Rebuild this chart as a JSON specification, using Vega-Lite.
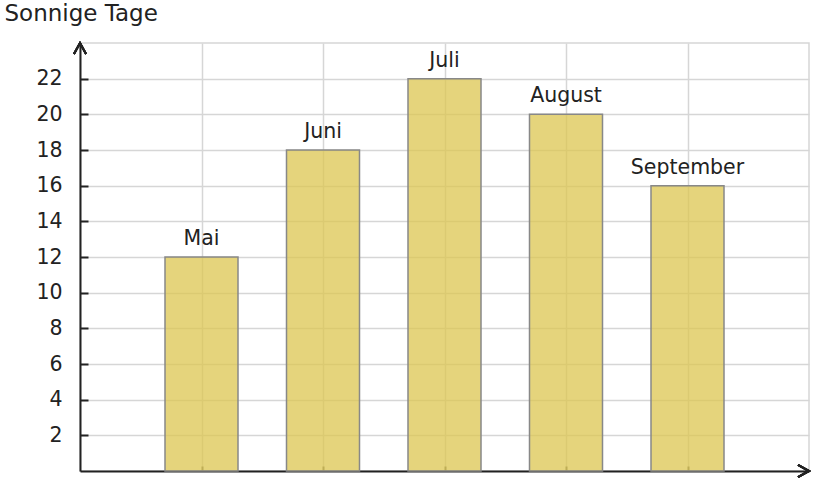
{
  "$schema": "https://vega.github.io/schema/vega-lite/v6.json",
  "width": 729,
  "height": 428,
  "autosize": {"type": "none"},
  "padding": {"left": 80, "top": 43, "right": 4, "bottom": 9},
  "background": "white",
  "config": {
    "font": "DejaVu Sans",
    "view": {"stroke": "#d6d6d6", "strokeWidth": 1.5},
    "axis": {"gridColor": "#d6d6d6", "gridWidth": 1.5, "domainColor": "#222", "domainWidth": 2}
  },
  "data": {
    "values": [
      {"monat": "Mai", "nr": 5, "tage": 12},
      {"monat": "Juni", "nr": 6, "tage": 18},
      {"monat": "Juli", "nr": 7, "tage": 22},
      {"monat": "August", "nr": 8, "tage": 20},
      {"monat": "September", "nr": 9, "tage": 16}
    ]
  },
  "encoding": {
    "x": {
      "field": "nr",
      "type": "quantitative",
      "scale": {"domain": [4, 10], "nice": false, "zero": false, "padding": 0},
      "axis": {
        "title": null,
        "values": [5, 6, 7, 8, 9],
        "labels": false,
        "tickSize": -5,
        "tickColor": "#666",
        "tickWidth": 2
      }
    },
    "y": {
      "field": "tage",
      "type": "quantitative",
      "scale": {"domain": [0, 24], "nice": false, "padding": 0},
      "axis": {
        "title": "Sonnige Tage",
        "titleAngle": 0,
        "titleAlign": "left",
        "titleBaseline": "alphabetic",
        "titleX": -76,
        "titleY": -23,
        "titleFontSize": 23,
        "titleFontWeight": "normal",
        "titleColor": "#222",
        "values": [2, 4, 6, 8, 10, 12, 14, 16, 18, 20, 22],
        "tickSize": -8,
        "tickColor": "#222",
        "tickWidth": 2,
        "labelPadding": 26,
        "labelFontSize": 20.5,
        "labelColor": "#222"
      }
    }
  },
  "layer": [
    {
      "mark": {"type": "bar", "width": 73, "fill": "#dcc650", "fillOpacity": 0.75, "stroke": "#888", "strokeWidth": 1.5}
    },
    {
      "mark": {"type": "text", "dy": -12, "baseline": "alphabetic", "fontSize": 20.5, "color": "#222"},
      "encoding": {"text": {"field": "monat"}}
    },
    {
      "mark": {"type": "point", "shape": "M -1 -0.55 L 0 0 L -1 0.55", "size": 484, "filled": false, "stroke": "#222", "strokeWidth": 2, "opacity": 1},
      "encoding": {"x": {"datum": 10}, "y": {"datum": 0}}
    },
    {
      "mark": {"type": "point", "shape": "M -1 -0.55 L 0 0 L -1 0.55", "size": 484, "angle": -90, "filled": false, "stroke": "#222", "strokeWidth": 2, "opacity": 1},
      "encoding": {"x": {"datum": 4}, "y": {"datum": 24}}
    }
  ]
}
